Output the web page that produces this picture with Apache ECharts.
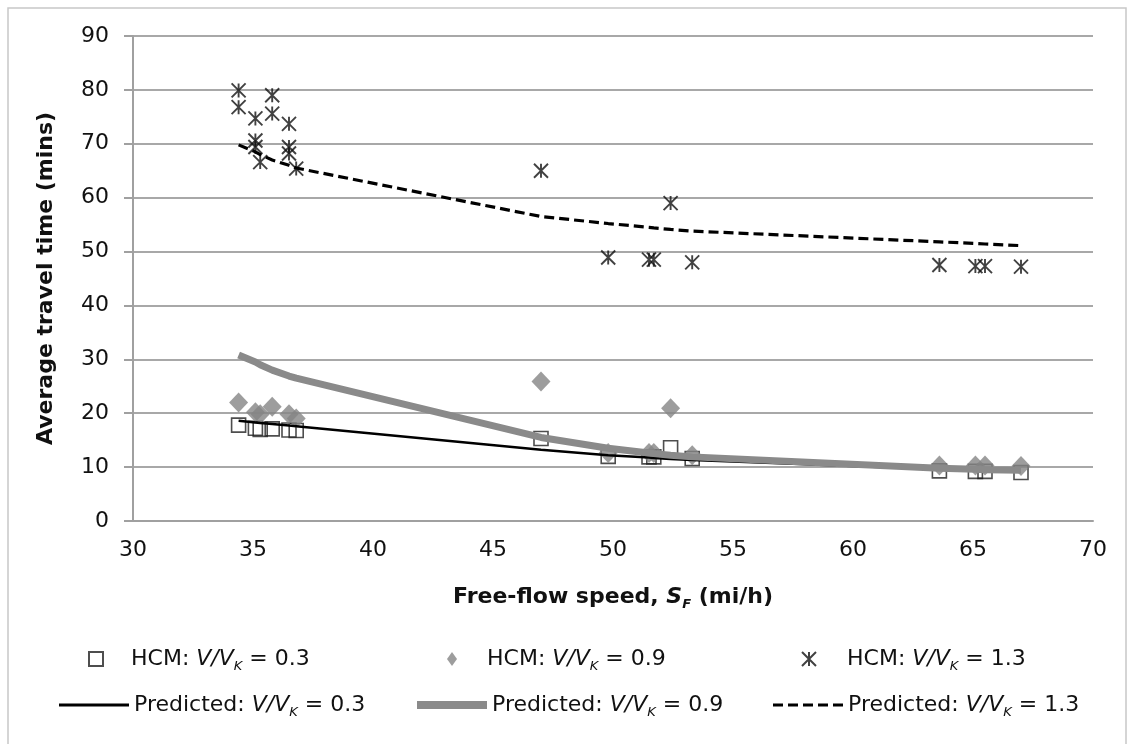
<!DOCTYPE html>
<html><head><meta charset="utf-8">
<script src="https://cdn.jsdelivr.net/npm/echarts@6/dist/echarts.min.js"></script>
<style>html,body{margin:0;padding:0;background:#fff}#c{width:1132px;height:744px}</style>
</head><body><div id="c"></div>
<script>
// ---- data ----
const speeds = [34.4,35.1,35.3,35.8,36.5,36.8,47.0,49.8,51.5,51.7,52.4,53.3,63.6,65.1,65.5,67.0];
const hcm03 = [17.8,17.2,17.0,17.1,16.9,16.8,15.3,12.0,11.9,11.9,13.6,11.6,9.3,9.2,9.2,9.0];
const hcm09 = [22.0,20.2,19.8,21.2,19.8,19.0,25.9,12.6,12.6,12.6,20.9,12.2,10.3,10.3,10.3,10.2];
const hcm13Speeds = [34.4,34.4,35.1,35.1,35.1,35.3,35.8,35.8,36.5,36.5,36.5,36.8,47.0,49.8,51.5,51.7,52.4,53.3,63.6,65.1,65.5,67.0];
const hcm13 = [79.9,76.8,74.7,70.6,69.4,66.6,79.0,75.6,73.7,69.4,68.2,65.4,65.0,48.9,48.5,48.5,59.0,48.0,47.5,47.3,47.3,47.2];
const pred03 = [18.6,18.3,18.2,18.0,17.7,17.6,13.2,12.2,11.8,11.7,11.5,11.3,9.6,9.4,9.4,9.2];
const pred09 = [30.8,29.5,29.0,28.0,26.9,26.5,15.5,13.5,12.6,12.5,12.2,11.9,9.8,9.6,9.5,9.4];
const pred13 = [69.8,68.5,68.0,67.0,66.0,65.5,56.5,55.2,54.5,54.4,54.1,53.8,51.8,51.5,51.4,51.1];
const seriesNames = ['HCM 0.3','HCM 0.9','HCM 1.3','Pred 0.3','Pred 0.9','Pred 1.3'];
const legendPrefix = ['HCM: ','HCM: ','HCM: ','Predicted: ','Predicted: ','Predicted: '];
const legendRatio = ['0.3','0.9','1.3','0.3','0.9','1.3'];

const FONT = '"DejaVu Sans", "Liberation Sans", Arial, sans-serif';
const FS = 22;
const pair = (xs, ys) => xs.map((x, i) => [x, ys[i]]);
const starPath = 'path://M0,0L10,10M10,0L0,10M5,0L5,10';
const dashIcon = 'path://M0,0h10v4h-10zM15,0h10v4h-10zM30,0h10v4h-10zM45,0h10v4h-10zM60,0h10v4h-10z';

const richBase = {
  a: {fontFamily: FONT, fontSize: FS, color: '#111', lineHeight: 28, verticalAlign: 'middle'},
  i: {fontFamily: FONT, fontSize: FS, color: '#111', fontStyle: 'italic', lineHeight: 28, verticalAlign: 'middle'},
  s: {fontFamily: FONT, fontSize: 13, color: '#111', fontStyle: 'italic', lineHeight: 10, verticalAlign: 'bottom'}
};
// legend layout: [left, top, itemWidth, itemHeight, leading gap, icon]
const legendLayout = [
  [83, 643, 14, 14, 23, null],
  [442, 643, 10, 14, 25, null],
  [796, 643, 14, 14, 26, null],
  [54, 689, 70, 3, 0, 'rect'],
  [412, 689, 70, 8, 0, 'rect'],
  [768, 689, 70, 3, 0, dashIcon]
];
const legends = seriesNames.map((n, k) => {
  const L = legendLayout[k];
  const rich = Object.assign({g: {width: L[4], lineHeight: 28}}, richBase);
  return {
    data: [L[5] ? {name: n, icon: L[5]} : {name: n}],
    left: L[0], top: L[1], itemWidth: L[2], itemHeight: L[3], symbolKeepAspect: false,
    selectedMode: false, itemGap: 0,
    formatter: () => (L[4] ? '{g|}' : '') + '{a|' + legendPrefix[k] + '}{i|V/V}{s|K}{a| = ' + legendRatio[k] + '}',
    textStyle: {rich: rich, fontFamily: FONT, fontSize: FS}
  };
});

const chart = echarts.init(document.getElementById('c'), null, {renderer: 'canvas'});
chart.setOption({
  animation: false,
  backgroundColor: '#fff',
  graphic: [{type: 'rect', shape: {x: 8, y: 8, width: 1118, height: 760}, style: {fill: 'none', stroke: '#c8c8c8', lineWidth: 1.5}, silent: true}],
  grid: {left: 133, right: 39, top: 36, bottom: 223},
  legend: legends,
  xAxis: {
    type: 'value', min: 30, max: 70, interval: 5,
    axisLine: {show: true, onZero: false, lineStyle: {color: '#a0a0a0', width: 2}},
    axisTick: {show: false},
    splitLine: {show: false},
    axisLabel: {fontFamily: FONT, fontSize: FS, color: '#111', margin: 18},
    name: '{b|Free-flow speed, }{bi|S}{bs|F}{b| (mi/h)}', nameLocation: 'middle', nameGap: 62,
    nameTextStyle: {rich: {
      b: {fontFamily: FONT, fontSize: FS, fontWeight: 'bold', color: '#111', lineHeight: 28, verticalAlign: 'middle'},
      bi: {fontFamily: FONT, fontSize: FS, fontWeight: 'bold', fontStyle: 'italic', color: '#111', lineHeight: 28, verticalAlign: 'middle'},
      bs: {fontFamily: FONT, fontSize: 13, fontWeight: 'bold', fontStyle: 'italic', color: '#111', lineHeight: 10, verticalAlign: 'bottom'}
    }}
  },
  yAxis: {
    type: 'value', min: 0, max: 90, interval: 10,
    axisLine: {show: true, lineStyle: {color: '#a0a0a0', width: 2}},
    axisTick: {show: true, inside: false, length: 9, lineStyle: {color: '#a0a0a0', width: 2}},
    splitLine: {show: true, lineStyle: {color: '#a8a8a8', width: 2}},
    axisLabel: {fontFamily: FONT, fontSize: FS, color: '#111', margin: 24},
    name: 'Average travel time (mins)', nameLocation: 'middle', nameGap: 76,
    nameTextStyle: {fontFamily: FONT, fontSize: FS, fontWeight: 'bold', color: '#111'}
  },
  series: [
    {name: 'HCM 0.3', type: 'scatter', data: pair(speeds, hcm03), symbol: 'rect', symbolSize: 14,
     itemStyle: {color: 'transparent', borderColor: '#222', borderWidth: 1.6}},
    {name: 'HCM 0.9', type: 'scatter', data: pair(speeds, hcm09), symbol: 'diamond', symbolSize: [19, 20],
     itemStyle: {color: '#858585'}},
    {name: 'HCM 1.3', type: 'scatter', data: pair(hcm13Speeds, hcm13), symbol: starPath, symbolSize: 14,
     itemStyle: {color: 'transparent', borderColor: '#111', borderWidth: 1.9}},
    {name: 'Pred 0.3', type: 'line', data: pair(speeds, pred03), symbol: 'none', showSymbol: false,
     lineStyle: {color: '#000', width: 2.5}, itemStyle: {color: '#000'}},
    {name: 'Pred 0.9', type: 'line', data: pair(speeds, pred09), symbol: 'none', showSymbol: false,
     lineStyle: {color: '#8a8a8a', width: 7}, itemStyle: {color: '#8a8a8a'}},
    {name: 'Pred 1.3', type: 'line', data: pair(speeds, pred13), symbol: 'none', showSymbol: false,
     lineStyle: {color: '#000', width: 3.2, type: [10, 5]}, itemStyle: {color: '#000'}}
  ]
});
</script>
</body></html>
